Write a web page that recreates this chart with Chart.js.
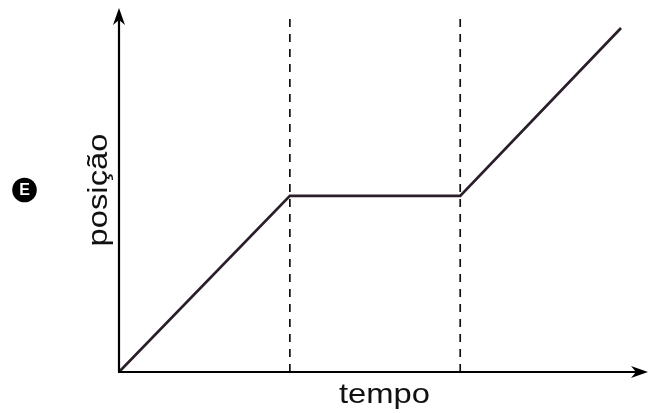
<!DOCTYPE html>
<html>
<head>
<meta charset="utf-8">
<script src="https://cdn.jsdelivr.net/npm/chart.js@4/dist/chart.umd.min.js"></script>
<style>
html,body{margin:0;padding:0;background:#fff;}
#wrap{width:655px;height:413px;position:relative;}
</style>
</head>
<body>
<div id="wrap"><canvas id="c" width="655" height="413"></canvas></div>
<script>
// Data (arbitrary units: x 0..10, y 0..10)
const tempo = [0, 3.23, 6.45, 9.49];
const posicao = [0, 4.84, 4.84, 9.45];
const dashTempo = [3.23, 6.45];
const dashTop = 9.89;
const xLabel = 'tempo';
const yLabel = 'posição';
const optionLetter = 'E';

const mainData = tempo.map((t, i) => ({x: t, y: posicao[i]}));
const dashSets = dashTempo.map(t => ({
  data: [{x: t, y: 0}, {x: t, y: dashTop}],
  borderColor: '#111',
  borderWidth: 1.7,
  borderDash: [8, 7],
  pointRadius: 0,
  fill: false
}));

function arrowHead(ctx, tipX, tipY, dir) {
  const L = 17, W = 6, N = 5;
  ctx.beginPath();
  if (dir === 'up') {
    ctx.moveTo(tipX, tipY);
    ctx.lineTo(tipX + W, tipY + L);
    ctx.lineTo(tipX, tipY + L - N);
    ctx.lineTo(tipX - W, tipY + L);
  } else {
    ctx.moveTo(tipX, tipY);
    ctx.lineTo(tipX - L, tipY - W);
    ctx.lineTo(tipX - L + N, tipY);
    ctx.lineTo(tipX - L, tipY + W);
  }
  ctx.closePath();
  ctx.fill();
}

const decor = {
  id: 'decor',
  afterDraw(chart) {
    const ctx = chart.ctx;
    const xs = chart.scales.x, ys = chart.scales.y;
    const ca = chart.chartArea;
    const ox = xs.getPixelForValue(0), oy = ys.getPixelForValue(0);
    ctx.save();
    ctx.strokeStyle = '#000';
    ctx.fillStyle = '#000';
    ctx.lineWidth = 2.2;
    ctx.beginPath();
    ctx.moveTo(ox, oy); ctx.lineTo(ox, ca.top + 6);
    ctx.moveTo(ox - 1, oy); ctx.lineTo(ca.right - 6, oy);
    ctx.stroke();
    arrowHead(ctx, ox, ca.top, 'up');
    arrowHead(ctx, ca.right, oy, 'right');

    // axis titles (glyphs slightly stretched along the text direction)
    const stretch = 1.17;
    ctx.fillStyle = '#111';
    ctx.font = '28px "Liberation Sans", Arial, sans-serif';
    ctx.textAlign = 'center';
    ctx.textBaseline = 'alphabetic';
    ctx.save();
    ctx.translate((ca.left + ca.right) / 2 + 1, oy + 31);
    ctx.scale(stretch, 1);
    ctx.fillText(xLabel, 0, 0);
    ctx.restore();
    ctx.save();
    ctx.translate(ox - 12, (ca.top + oy) / 2);
    ctx.rotate(-Math.PI / 2);
    ctx.scale(stretch, 1);
    ctx.fillText(yLabel, 0, 0);
    ctx.restore();

    // option marker
    ctx.beginPath();
    ctx.arc(24.5, 190, 12.3, 0, Math.PI * 2);
    ctx.fillStyle = '#000';
    ctx.fill();
    ctx.fillStyle = '#fff';
    ctx.font = 'bold 16px "Liberation Sans", Arial, sans-serif';
    ctx.textAlign = 'center';
    ctx.textBaseline = 'middle';
    ctx.fillText(optionLetter, 24.5, 191);
    ctx.restore();
  }
};

new Chart(document.getElementById('c'), {
  type: 'line',
  data: {
    datasets: [
      {
        data: mainData,
        borderColor: '#2a1e2a',
        borderWidth: 2.7,
        pointRadius: 0,
        tension: 0,
        fill: false
      },
      ...dashSets
    ]
  },
  options: {
    responsive: false,
    animation: false,
    layout: {padding: {left: 119, right: 7, top: 8, bottom: 41}},
    plugins: {legend: {display: false}, tooltip: {enabled: false}},
    scales: {
      x: {type: 'linear', min: 0, max: 10, display: false},
      y: {type: 'linear', min: 0, max: 10, display: false}
    }
  },
  plugins: [decor]
});
</script>
</body>
</html>
